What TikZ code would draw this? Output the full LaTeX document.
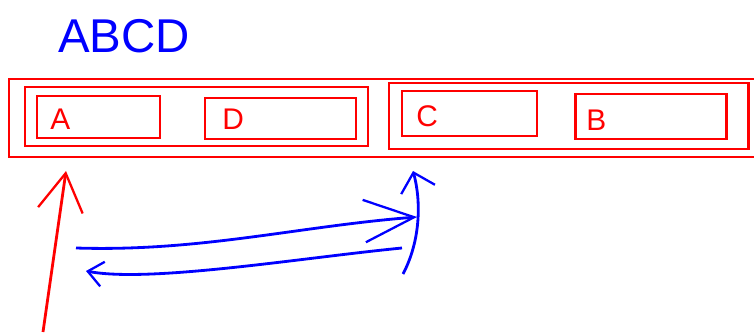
\documentclass[tikz,border=0pt]{standalone}
\usepackage{fontspec}
\setsansfont{Liberation Sans}
\usetikzlibrary{arrows.meta}
\tikzset{
    redbox/.style={draw=red, line width=1.7pt},
    redlabel/.style={red, font=\sffamily\fontsize{17}{17}\selectfont, anchor=west, inner sep=0pt},
    redarrow/.style={red, line width=1.6pt, -{Straight Barb[length=0.75cm,width=0.9cm,line width=1.3pt]}},
    bluearrow/.style={blue, line width=1.6pt},
}
\begin{document}
\begin{tikzpicture}[x=0.02cm, y=-0.02cm]
    \useasboundingbox (0,0) rectangle (754,334);
    \clip (0,0) rectangle (754,334);

    % Title
    \node[blue, font=\sffamily\fontsize{27}{27}\selectfont, anchor=west] (title) at (52,36) {ABCD};

    % Outer frame and the two groups
    \draw[redbox] (9,79) rectangle (765,157);
    \draw[redbox] (25,87) rectangle (368,146);
    \draw[redbox] (389,83) rectangle (748,149);

    % Inner boxes
    \draw[redbox] (37,96) rectangle (160,138);
    \draw[redbox] (205,98) rectangle (356,139);
    \draw[redbox] (402,91) rectangle (537,136);
    \draw[redbox] (575,94) rectangle (726,139);
    \node[redlabel] (la) at (50,119) {A};
    \node[redlabel] (lb) at (222,119) {D};
    \node[redlabel] (lc) at (416,116) {C};
    \node[redlabel] (ld) at (586,120) {B};

    % Pointer and moves
    \coordinate (redfoot) at (43,332);
    \coordinate (redtip) at (66,171);
    \coordinate (gostart) at (76,248);
    \coordinate (goend) at (417,217);
    \coordinate (backstart) at (402,248);
    \coordinate (backend) at (86,271);
    \coordinate (upstart) at (403,274);
    \coordinate (uptip) at (413,171);

    \draw[redarrow] (redfoot) -- (redtip);
    \draw[bluearrow, -{Straight Barb[length=1.0cm,width=0.85cm,line width=1.3pt]}]
        (gostart) .. controls (200,252) and (300,226) .. (goend);
    \draw[bluearrow, -{Straight Barb[length=0.3cm,width=0.5cm,line width=1.3pt]}]
        (backstart) .. controls (300,258) and (150,283) .. (backend);
    \draw[bluearrow, -{Straight Barb[length=0.35cm,width=0.7cm,line width=1.3pt]}]
        (upstart) .. controls (421,240) and (421,200) .. (uptip);
\end{tikzpicture}
\end{document}
